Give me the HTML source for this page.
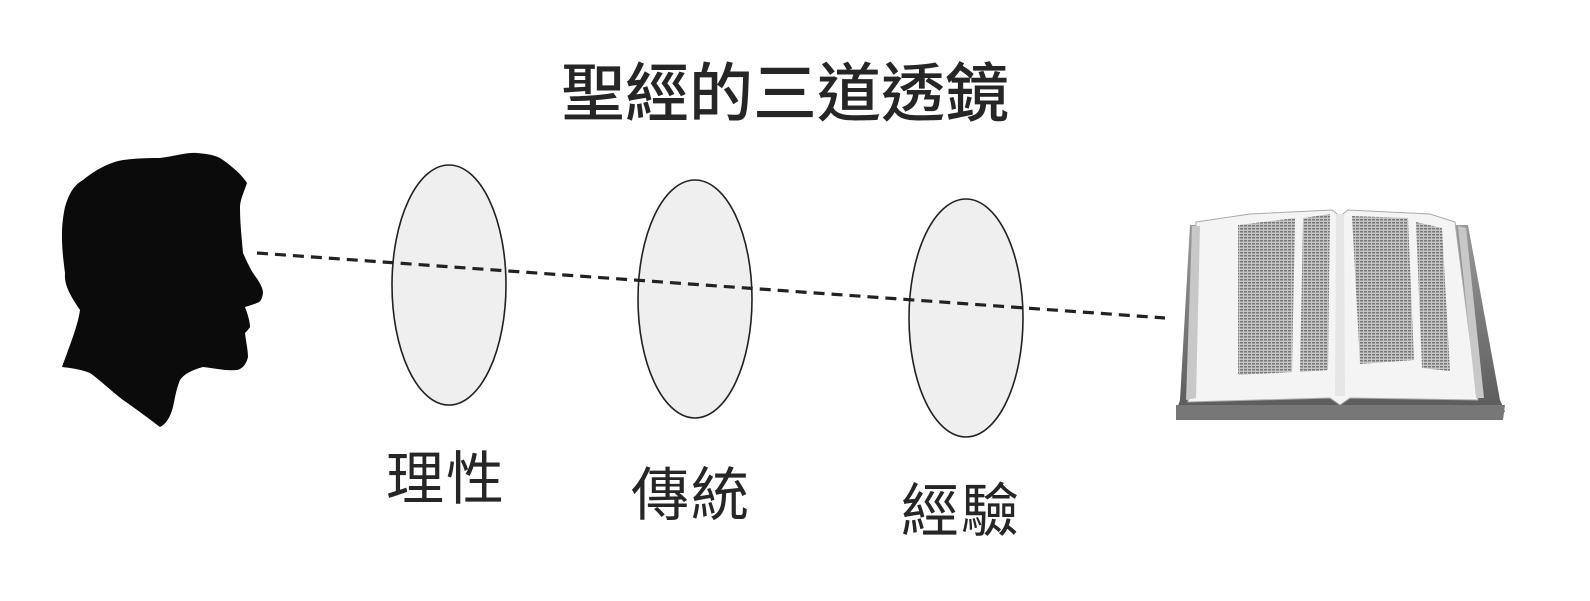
<!DOCTYPE html>
<html><head><meta charset="utf-8"><style>
html,body{margin:0;padding:0;background:#fff;width:1590px;height:601px;overflow:hidden}
svg{display:block}
text{font-family:"Liberation Sans","Noto Sans CJK TC",sans-serif;fill:#262626}
</style></head><body>
<svg width="1590" height="601" viewBox="0 0 1590 601" xmlns="http://www.w3.org/2000/svg">
<text x="785" y="116" font-size="64" font-weight="500" text-anchor="middle">聖經的三道透鏡</text>
<path fill="#0b0b0b" d="M62,367 C70,345 78,325 80,310 C70,295 64,285 65,273 C62,250 60,230 65,207 C70,190 76,184 83,180 C95,170 110,162 123,160 C140,158 150,158 160,158 C175,156 188,152 197,153 C208,154 214,155 220,158 C232,166 242,175 247,183 C244,192 240,200 240,207 C240,225 242,240 243,253 C247,262 250,268 253,273 C258,280 263,287 263,293 C262,300 260,302 257,303 C252,305 248,306 245,307 C248,315 250,322 250,327 C248,330 246,332 245,333 C246,342 248,350 248,357 C246,365 242,369 237,370 C225,371 213,368 203,367 C192,370 184,374 180,380 C176,390 175,398 173,407 C170,418 166,424 160,427 C148,418 135,408 123,400 C110,390 100,380 90,373 C80,369 70,368 62,367 Z"/>
<g fill="#efefef" stroke="#222" stroke-width="1.6">
<ellipse cx="449" cy="285" rx="57" ry="120"/>
<ellipse cx="695" cy="299" rx="57" ry="119"/>
<ellipse cx="966" cy="318" rx="57" ry="119"/>
</g>
<line x1="257" y1="253" x2="1165" y2="318" stroke="#222" stroke-width="3.2" stroke-dasharray="11,7"/>
<defs>
<pattern id="txt" width="4" height="3" patternUnits="userSpaceOnUse">
<rect width="4" height="3" fill="#c4c4c4"/>
<rect y="0" width="3" height="1.5" fill="#777"/>
</pattern>
<linearGradient id="cov" x1="0" y1="0" x2="0" y2="1">
<stop offset="0" stop-color="#9a9a9a"/><stop offset="1" stop-color="#5a5a5a"/>
</linearGradient>
</defs>
<path d="M1190,225 L1468,225 L1500,400 L1505,412 L1356,414 L1340,408 L1325,414 L1176,412 L1180,400 Z" fill="url(#cov)"/>
<path d="M1176,405 L1505,405 L1503,420 L1176,420 Z" fill="#777"/>
<path d="M1196,222 L1250,214 L1332,210 L1340,216 L1348,210 L1430,214 L1455,222 L1478,400 L1350,398 L1340,405 L1330,398 L1188,402 Z" fill="#f4f4f4" stroke="#aaa"/>
<path d="M1192,226 L1200,226 L1196,398 L1186,400 Z" fill="#c8c8c8"/>
<path d="M1458,226 L1466,228 L1484,398 L1476,398 Z" fill="#c8c8c8"/>
<g fill="url(#txt)">
<path d="M1238,225 L1295,218 L1292,372 L1238,375 Z"/>
<path d="M1303,218 L1330,214 L1328,370 L1300,372 Z"/>
<path d="M1352,216 L1408,218 L1414,360 L1360,364 Z"/>
<path d="M1416,222 L1442,228 L1450,371 L1422,368 Z"/>
</g>
<path d="M1336,214 L1344,214 L1345,396 L1335,396 Z" fill="#e6e6e6"/>
<text x="445" y="499" font-size="58" text-anchor="middle" textLength="118">理性</text>
<text x="690" y="515" font-size="58" text-anchor="middle" textLength="118">傳統</text>
<text x="960" y="531" font-size="58" text-anchor="middle" textLength="118">經驗</text>
</svg>
</body></html>
